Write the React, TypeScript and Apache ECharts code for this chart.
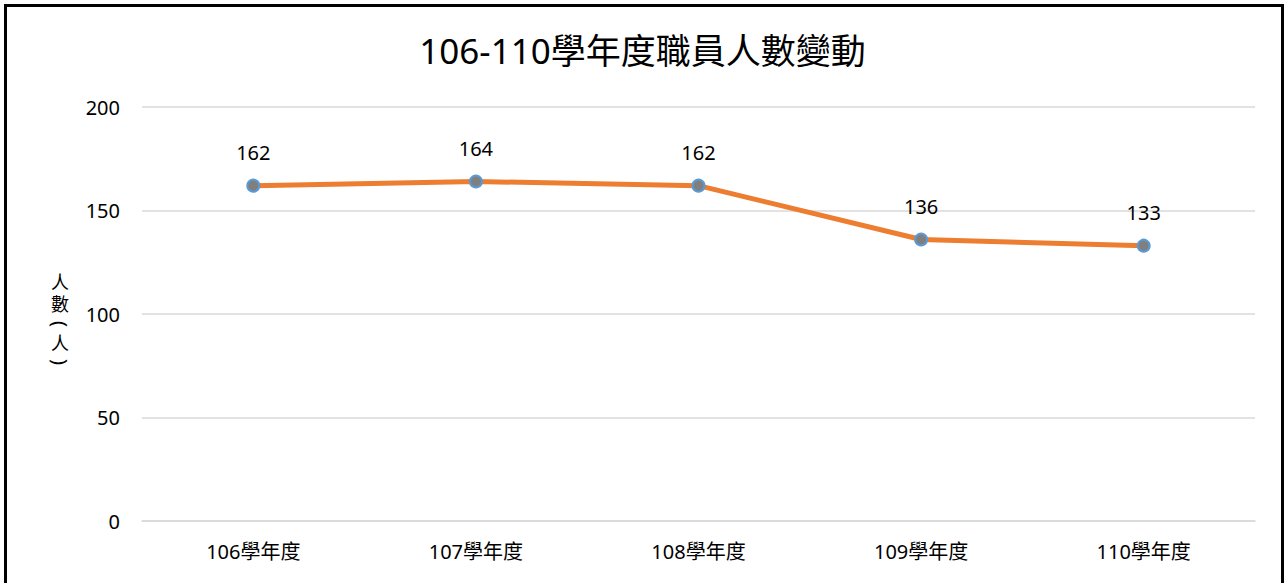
import React, { useEffect, useRef } from "react";
import * as echarts from "echarts";

const titleText = "106-110學年度職員人數變動";
const categories = ["106學年度", "107學年度", "108學年度", "109學年度", "110學年度"];
const staffCounts = [162, 164, 162, 136, 133];
const yAxisNameChars = ["人", "數", "(", "人", ")"];

const FONT = '"Noto Sans", "Noto Sans CJK TC", sans-serif';

export default function App() {
  const ref = useRef<HTMLDivElement>(null);
  useEffect(() => {
    if (!ref.current) return;
    const chart = echarts.init(ref.current, null, { renderer: "svg" });
    const nameY = [282, 304, 324, 343, 362];
    chart.setOption({
      animation: false,
      backgroundColor: "#ffffff",
      title: {
        text: titleText,
        left: "center",
        top: 28,
        textStyle: { fontFamily: FONT, fontSize: 35, fontWeight: "normal", color: "#000" },
      },
      grid: { left: 142, right: 30, top: 107, bottom: 62, containLabel: false },
      xAxis: {
        type: "category",
        data: categories,
        boundaryGap: true,
        axisLine: { show: true, lineStyle: { color: "#d9d9d9", width: 1.5 } },
        axisTick: { show: false },
        axisLabel: { margin: 20, fontFamily: FONT, fontSize: 20, color: "#000" },
      },
      yAxis: {
        type: "value",
        min: 0,
        max: 200,
        interval: 50,
        axisLine: { show: false },
        axisTick: { show: false },
        axisLabel: { margin: 22, fontFamily: FONT, fontSize: 20, color: "#000" },
        splitLine: { lineStyle: { color: "#d9d9d9", width: 1.5 } },
      },
      series: [
        {
          type: "line",
          data: staffCounts,
          symbol: "circle",
          symbolSize: 12,
          lineStyle: { color: "#ED7D31", width: 5 },
          itemStyle: { color: "#7f7f7f", borderColor: "#5B9BD5", borderWidth: 2 },
          label: {
            show: true,
            position: "top",
            distance: 16,
            fontFamily: FONT,
            fontSize: 20,
            color: "#000",
          },
          z: 3,
        },
      ],
      graphic: [
        {
          type: "rect",
          shape: { x: 5.5, y: 5.5, width: 1277, height: 640 },
          style: { fill: "none", stroke: "#000", lineWidth: 3 },
          silent: true,
        },
        ...yAxisNameChars.map((ch, i) => {
          const isParen = ch === "(" || ch === ")";
          return {
            type: "text",
            x: 60,
            y: nameY[i],
            rotation: isParen ? -Math.PI / 2 : 0,
            style: {
              text: ch,
              fontFamily: FONT,
              fontSize: isParen ? 20 : 18,
              lineHeight: 18,
              fill: "#000",
              textAlign: "center",
              textVerticalAlign: "middle",
            },
          };
        }),
      ],
    });
    return () => chart.dispose();
  }, []);
  return (
    <div
      ref={ref}
      style={{ position: "fixed", left: 0, top: 0, width: 1285, height: 583 }}
    />
  );
}
